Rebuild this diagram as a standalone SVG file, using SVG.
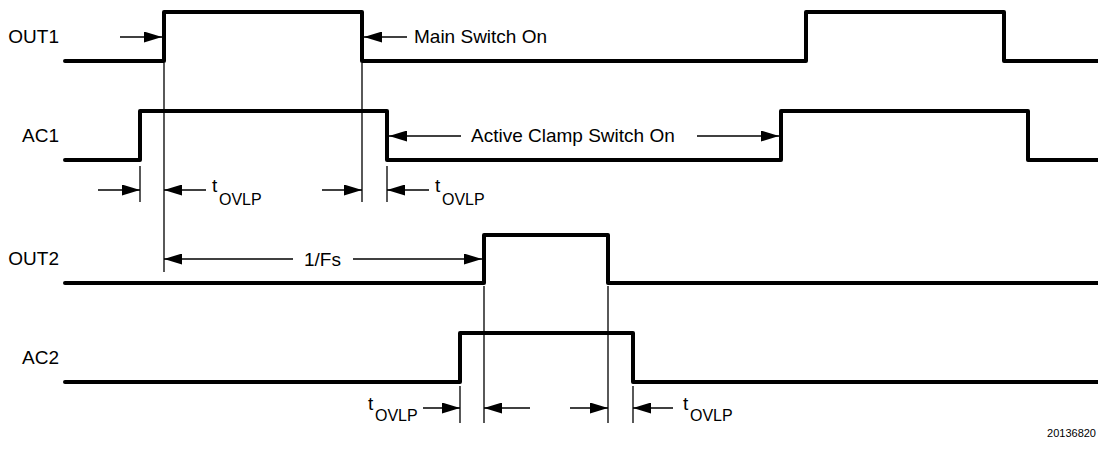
<svg xmlns="http://www.w3.org/2000/svg" width="1098" height="450" viewBox="0 0 1098 450">
<style>
.sig{fill:none;stroke:#000;stroke-width:4;stroke-linejoin:round;stroke-linecap:round}
.ref{fill:none;stroke:#000;stroke-width:1.3}
.dim{fill:none;stroke:#000;stroke-width:1.5;marker-end:url(#ah)}
text{font-family:"Liberation Sans",Arial,sans-serif;fill:#000}
.lbl{font-size:19px;text-anchor:end}
.txt{font-size:19px}
.sub{font-size:16px}
.foot{font-size:11px;text-anchor:end}
</style>
<defs>
<marker id="ah" markerUnits="userSpaceOnUse" markerWidth="18" markerHeight="11" refX="18" refY="5.5" orient="auto">
<path d="M0,0 L18,5.5 L0,11 Z" fill="#000"/>
</marker>
</defs>
<rect width="1098" height="450" fill="#fff"/>
<g id="OUT1">
<text class="lbl" x="59" y="43">OUT1</text>
<path class="sig" d="M65,61 H164 V12 H362 V61 H806 V12 H1004 V61 H1100"/>
</g>
<g id="AC1">
<text class="lbl" x="59" y="142">AC1</text>
<path class="sig" d="M65,160 H140 V111 H387 V160 H781 V111 H1028 V160 H1100"/>
</g>
<g id="OUT2">
<text class="lbl" x="59" y="265">OUT2</text>
<path class="sig" d="M65,283 H484 V235 H608 V283 H1100"/>
</g>
<g id="AC2">
<text class="lbl" x="59" y="364">AC2</text>
<path class="sig" d="M65,382 H460 V333 H633 V382 H1100"/>
</g>
<g id="connectors">
<path class="ref" d="M164,63 V272 M362,63 V202 M140,166 V202 M387,166 V202 M484,286 V423 M608,286 V423 M460,386 V423 M633,386 V423"/>
<line class="dim" x1="120" y1="37" x2="162" y2="37"/>
<line class="dim" x1="407" y1="37" x2="364" y2="37"/>
<line class="dim" x1="461" y1="136" x2="389" y2="136"/>
<line class="dim" x1="697" y1="136" x2="779" y2="136"/>
<line class="dim" x1="98" y1="190" x2="140" y2="190"/>
<line class="dim" x1="206" y1="190" x2="164" y2="190"/>
<line class="dim" x1="322" y1="190" x2="362" y2="190"/>
<line class="dim" x1="429" y1="190" x2="387" y2="190"/>
<line class="dim" x1="293" y1="259" x2="164" y2="259"/>
<line class="dim" x1="353" y1="259" x2="482" y2="259"/>
<line class="dim" x1="423" y1="408" x2="460" y2="408"/>
<line class="dim" x1="530" y1="408" x2="484" y2="408"/>
<line class="dim" x1="570" y1="408" x2="608" y2="408"/>
<line class="dim" x1="673" y1="408" x2="633" y2="408"/>
</g>
<g id="labels">
<text class="txt" x="414" y="43">Main Switch On</text>
<text class="txt" x="471" y="142">Active Clamp Switch On</text>
<text class="txt" x="304" y="266">1/Fs</text>
<text class="txt" x="212" y="192">t</text><text class="sub" x="219" y="205">OVLP</text>
<text class="txt" x="435" y="192">t</text><text class="sub" x="442" y="205">OVLP</text>
<text class="txt" x="368" y="410">t</text><text class="sub" x="375" y="421">OVLP</text>
<text class="txt" x="683" y="410">t</text><text class="sub" x="690" y="421">OVLP</text>
<text class="foot" x="1096" y="437">20136820</text>
</g>
</svg>
